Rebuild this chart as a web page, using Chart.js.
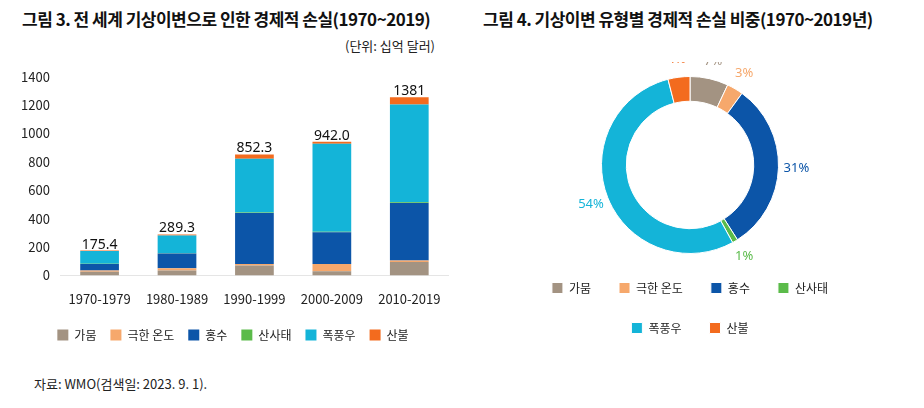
<!DOCTYPE html>
<html><head><meta charset="utf-8">
<script src="https://cdn.jsdelivr.net/npm/chart.js@4"></script>
<style>
body{margin:0;width:924px;height:408px;background:#fff;font-family:"Noto Sans CJK KR","Noto Sans",sans-serif;position:relative;overflow:hidden}
.t{position:absolute;font-weight:bold;font-size:17px;color:#111;letter-spacing:-0.5px}
.u{position:absolute;font-size:13px;color:#222}
#c1{position:absolute;left:18px;top:66px}
#c2{position:absolute;left:465px;top:62px}
</style></head><body>
<div class="t" style="left:22px;top:6px">그림 3. 전 세계 기상이변으로 인한 경제적 손실(1970~2019)</div>
<div class="u" style="left:345px;top:36px">(단위: 십억 달러)</div>
<div class="t" style="left:483px;top:6px">그림 4. 기상이변 유형별 경제적 손실 비중(1970~2019년)</div>
<div class="u" style="left:34px;top:374px">자료: WMO(검색일: 2023. 9. 1).</div>
<canvas id="c1" width="440" height="285"></canvas>
<canvas id="c2" width="450" height="290"></canvas>
<script>
const decades = ["1970-1979","1980-1989","1990-1999","2000-2009","2010-2019"];
const types = ["가뭄","극한 온도","홍수","산사태","폭풍우","산불"];
const colors = ["#a39382","#f6a86c","#0c55a8","#5bbb4a","#14b4d8","#f36b1e"];
const drought = [25,35,70,30,95];
const extremeTemp = [10,15,10,50,10];
const flood = [45,105,360,225,405];
const landslide = [2,2,3,3,5];
const storm = [90,125,380,620,690];
const wildfire = [3,7,30,14,50];
const totals = ["175.4","289.3","852.3","942.0","1381"];
const shares = [7,3,31,1,54,4];
const series = [drought,extremeTemp,flood,landslide,storm,wildfire];

Chart.defaults.font.family = '"Noto Sans CJK KR","Noto Sans",sans-serif';
Chart.defaults.color = "#222";
Chart.defaults.animation = false;

const legendOpts = {position:"bottom",labels:{boxWidth:11,boxHeight:11,padding:14,font:{size:12}}};

new Chart(document.getElementById("c1"), {
  type:"bar",
  data:{labels:decades,datasets:series.map((d,i)=>({label:types[i],data:d,backgroundColor:colors[i],barPercentage:0.5,categoryPercentage:1}))},
  options:{responsive:false,layout:{padding:{top:6,right:10}},
    plugins:{legend:legendOpts,tooltip:{enabled:false}},
    scales:{x:{stacked:true,grid:{display:false},ticks:{font:{size:13},padding:8}},
      y:{stacked:true,min:0,max:1400,ticks:{stepSize:200,font:{size:13},callback:v=>String(v)},grid:{display:false},border:{display:false}}}},
  plugins:[{id:"tot",afterDatasetsDraw(ch){const c=ch.ctx;const m=ch.getDatasetMeta(5);c.save();c.font="14px 'Noto Sans'";c.fillStyle="#111";c.textAlign="center";
    m.data.forEach((b,i)=>c.fillText(totals[i],b.x,b.y-6));c.restore();}}]
});

new Chart(document.getElementById("c2"), {
  type:"doughnut",
  data:{labels:types,datasets:[{data:shares,backgroundColor:colors,borderColor:"#fff",borderWidth:1}]},
  options:{responsive:false,cutout:"72%",rotation:0,layout:{padding:{top:14,bottom:8,left:40,right:40}},
    plugins:{legend:{position:"bottom",labels:{boxWidth:11,boxHeight:11,padding:28,font:{size:12}}},tooltip:{enabled:false}}},
  plugins:[{id:"pct",afterDatasetsDraw(ch){const c=ch.ctx;const m=ch.getDatasetMeta(0);c.save();c.font="13px 'Noto Sans'";c.textAlign="center";c.textBaseline="middle";
    m.data.forEach((a,i)=>{const ang=(a.startAngle+a.endAngle)/2;const r=a.outerRadius+18;c.fillStyle=colors[i];
      c.fillText(shares[i]+"%",a.x+Math.cos(ang)*r,a.y+Math.sin(ang)*r);});c.restore();}}]
});
</script>
</body></html>
